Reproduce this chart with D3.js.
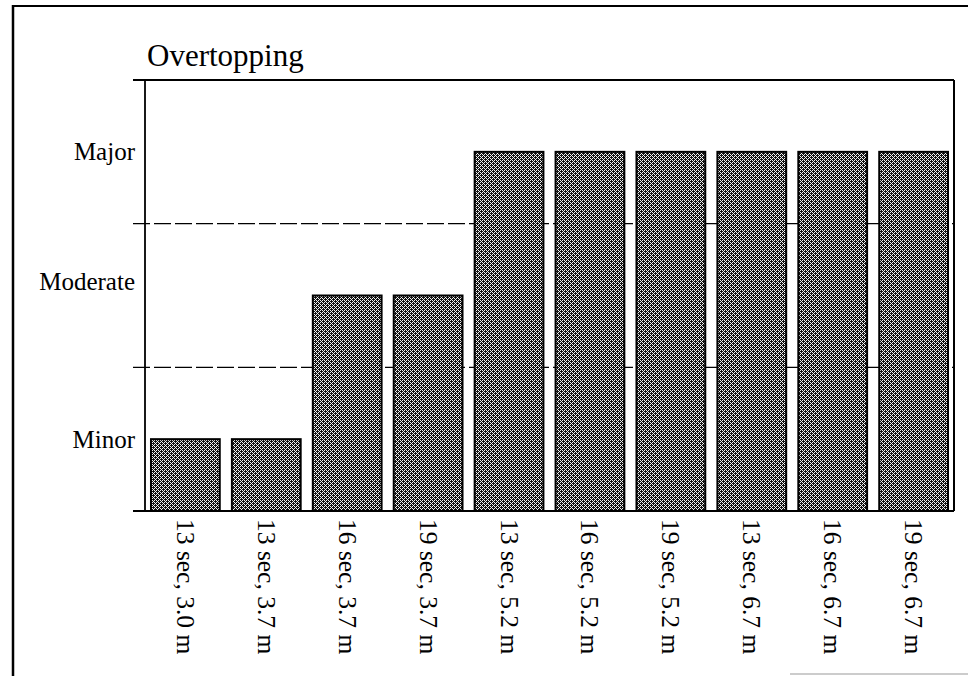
<!DOCTYPE html>
<html>
<head>
<meta charset="utf-8">
<script src="https://cdn.jsdelivr.net/npm/d3@7"></script>
<style>
  html, body { margin: 0; padding: 0; background: #fff; }
  svg { display: block; }
  text { font-family: "Liberation Serif", "DejaVu Serif", serif; fill: #000; }
</style>
</head>
<body>
<svg id="chart" width="968" height="676"></svg>
<script>
// ---- data ----
const categories = ["13 sec, 3.0 m", "13 sec, 3.7 m", "16 sec, 3.7 m", "19 sec, 3.7 m",
                    "13 sec, 5.2 m", "16 sec, 5.2 m", "19 sec, 5.2 m",
                    "13 sec, 6.7 m", "16 sec, 6.7 m", "19 sec, 6.7 m"];
const values = [0.5, 0.5, 1.5, 1.5, 2.5, 2.5, 2.5, 2.5, 2.5, 2.5];
const levelLabels = ["Minor", "Moderate", "Major"];
const levelLabelValues = [0.5, 1.6, 2.5];
const boundaryValues = [1, 2];
const title = "Overtopping";

// ---- layout ----
const svg = d3.select("#chart");
const W = 968, H = 676;
const plot = { left: 145, right: 954, top: 80, bottom: 511 };
const serif = '"Liberation Serif", "DejaVu Serif", serif';

// pattern for bars (fine crosshatch)
const defs = svg.append("defs");
const pat = defs.append("pattern")
  .attr("id", "hatch").attr("patternUnits", "userSpaceOnUse")
  .attr("width", 4).attr("height", 4);
pat.append("rect").attr("width", 4).attr("height", 4).attr("fill", "#111");
[[0,0],[1,1],[2,2],[3,3],[2,0],[0,2]].forEach(([px,py]) => {
  pat.append("rect").attr("x", px).attr("y", py).attr("width", 1).attr("height", 1).attr("fill", "#f2f2f2");
});

const x = d3.scaleBand().domain(categories)
  .range([plot.left, plot.right]).paddingInner(0.15).paddingOuter(0.074);
const y = d3.scaleLinear().domain([0, 3]).range([plot.bottom, plot.top]);

// outer frame
svg.append("line").attr("x1", 13).attr("x2", 13).attr("y1", 5).attr("y2", H)
  .attr("stroke", "#000").attr("stroke-width", 2.5);
svg.append("line").attr("x1", 12).attr("x2", W).attr("y1", 6).attr("y2", 6)
  .attr("stroke", "#000").attr("stroke-width", 2);
svg.append("line").attr("x1", 790).attr("x2", W).attr("y1", 674).attr("y2", 674)
  .attr("stroke", "#bbb").attr("stroke-width", 1.5);

// title
svg.append("text").attr("x", 147).attr("y", 66)
  .attr("font-family", serif).attr("font-size", 31).text(title);

// dashed boundaries
svg.append("g").selectAll("line").data(boundaryValues).join("line")
  .attr("x1", 133).attr("x2", plot.right)
  .attr("y1", d => y(d)).attr("y2", d => y(d))
  .attr("stroke", "#000").attr("stroke-width", 1.2)
  .attr("stroke-dasharray", "17,4");

// bars
svg.append("g").selectAll("rect").data(values).join("rect")
  .attr("x", (d, i) => x(categories[i]))
  .attr("width", x.bandwidth())
  .attr("y", d => y(d))
  .attr("height", d => y(0) - y(d))
  .attr("fill", "url(#hatch)")
  .attr("stroke", "#000").attr("stroke-width", 2);

// plot frame
svg.append("line").attr("x1", 133).attr("x2", plot.right).attr("y1", plot.top).attr("y2", plot.top)
  .attr("stroke", "#000").attr("stroke-width", 2);
svg.append("line").attr("x1", plot.right).attr("x2", plot.right).attr("y1", plot.top).attr("y2", plot.bottom)
  .attr("stroke", "#000").attr("stroke-width", 2);

// y axis
const yAxis = d3.axisLeft(y).tickValues(levelLabelValues)
  .tickFormat((d, i) => levelLabels[i]).tickSize(0).tickPadding(10);
const gy = svg.append("g").attr("transform", `translate(${plot.left},0)`).call(yAxis)
  .attr("font-family", serif).attr("font-size", 25);
gy.select(".domain").attr("stroke", "#000").attr("stroke-width", 1.8)
  .attr("d", `M0,${plot.top}V${plot.bottom}`);
gy.selectAll("text").attr("fill", "#000");

// x axis
const xAxis = d3.axisBottom(x).tickSize(0).tickPadding(0);
const gx = svg.append("g").attr("transform", `translate(0,${plot.bottom})`).call(xAxis)
  .attr("font-family", serif).attr("font-size", 25.5);
gx.select(".domain").attr("stroke", "#000").attr("stroke-width", 2)
  .attr("d", `M133,0H${plot.right}`);
gx.selectAll("text")
  .attr("fill", "#000")
  .attr("text-anchor", "start")
  .attr("dy", null)
  .attr("y", 0)
  .attr("dominant-baseline", "central")
  .attr("transform", "translate(0,8) rotate(90)");
</script>
</body>
</html>
